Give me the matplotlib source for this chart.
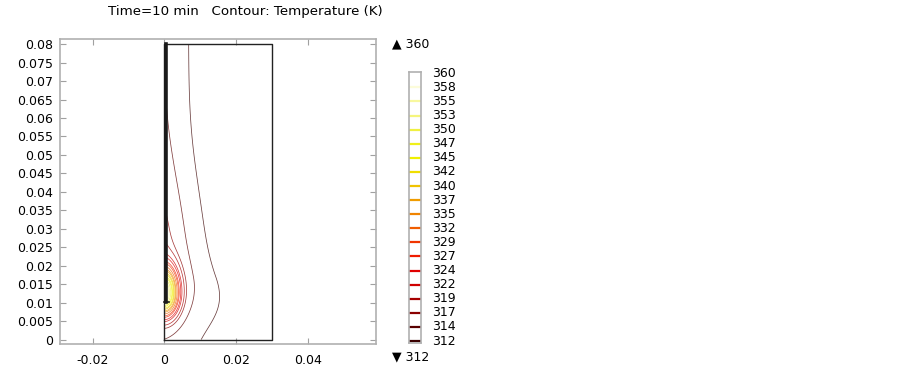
import numpy as np
import matplotlib
matplotlib.use("Agg")
import matplotlib.pyplot as plt
from matplotlib.colors import LinearSegmentedColormap

# contour levels / legend labels (K)
levels = [312, 314, 317, 319, 322, 324, 327, 329, 332, 335,
          337, 340, 342, 345, 347, 350, 353, 355, 358, 360]
t_min, t_max = 312, 360

x_ticks = [-0.02, 0, 0.02, 0.04]
y_ticks = [0, 0.005, 0.01, 0.015, 0.02, 0.025, 0.03, 0.035, 0.04,
           0.045, 0.05, 0.055, 0.06, 0.065, 0.07, 0.075, 0.08]

# geometry (m)
dom_w, dom_h = 0.03, 0.08
heater_bottom = 0.0102
heater_w = 0.0008

# temperature model parameters
T_inf = 311.0
y_hot = 0.0125     # hot spot at heater tip
y_wall = 0.017     # peak of the warm layer along the wall
core_amp, core_r = 41.5, 0.0036
stretch_below, stretch_above = 1.6, 1.9
profile_p = 1.2

cmap = LinearSegmentedColormap.from_list("thermal_light", [
    (0.00, "#3a0000"), (0.06, "#6a0000"), (0.11, "#900000"),
    (0.16, "#b00000"), (0.21, "#d00000"), (0.27, "#e80000"),
    (0.32, "#f02000"), (0.37, "#f04000"), (0.42, "#f06000"),
    (0.47, "#f08000"), (0.53, "#f0a000"), (0.58, "#f0c000"),
    (0.63, "#f0e000"), (0.69, "#f0f000"), (0.74, "#f0f020"),
    (0.79, "#f0f040"), (0.84, "#f4f470"), (0.90, "#f8f8a0"),
    (0.95, "#fbfbd0"), (1.00, "#ffffff")])

# field
xs = np.linspace(0, dom_w, 401)
ys = np.linspace(0, dom_h, 1001)
X, Y = np.meshgrid(xs, ys)

dy = Y - y_hot
s = np.where(dy > 0, stretch_above, stretch_below)
rho = np.sqrt(X**2 + (dy / s)**2)
core = core_amp * np.exp(-(rho / core_r)**2)

dw = Y - y_wall
P = np.where(dw > 0,
             2.95 + 5.13 * np.exp(-(dw / 0.026)**2),
             2.0 + 6.08 * np.exp(-(dw / 0.011)**2))
w = 0.0063 + 0.0045 * np.exp(-(Y / 0.016)**2)
T = T_inf + P * np.exp(-(X / w)**profile_p) + core

fig = plt.figure(figsize=(9.03, 3.66), dpi=100)
ax = fig.add_axes([60/903, 1-344/366, 316/903, 305/366])

norm = plt.Normalize(t_min, t_max)
ax.contour(X, Y, T, levels=levels, cmap=cmap, norm=norm, linewidths=0.55, alpha=0.75)

# domain outline and heater
ax.plot([0, dom_w, dom_w, 0, 0], [0, 0, dom_h, dom_h, 0], color="#222222", lw=1.0, zorder=3)
ax.plot([heater_w/2, heater_w/2], [heater_bottom, dom_h], color="#1a1a1a", lw=2.6, zorder=4)
ax.plot([0, heater_w*1.4], [heater_bottom, heater_bottom], color="#1a1a1a", lw=1.2, zorder=4)

ax.set_xlim(-0.0292, 0.0591)
ax.set_ylim(-0.0012, 0.0814)
ax.set_xticks(x_ticks)
ax.set_yticks(y_ticks)
ax.set_xticklabels(["%g" % v for v in x_ticks])
ax.set_yticklabels(["%g" % v for v in y_ticks])
ax.tick_params(direction="in", length=4, color="#a0a0a0", labelsize=9,
               top=True, right=True, pad=5)
ax.tick_params(axis="x", pad=7)
for sp in ax.spines.values():
    sp.set_color("#b0b0b0")
    sp.set_linewidth(1.2)

fig.text(108/903, 1-11/366, "Time=10 min   Contour: Temperature (K)",
         ha="left", va="center", fontsize=9.6)

# colour legend
cax = fig.add_axes([409/903, 1-343/366, 12/903, 271/366])
n = len(levels)
cax.set_xlim(0, 1)
cax.set_ylim(-0.14, n - 1 + 0.09)
for i, lv in enumerate(levels):
    cax.hlines(i, 0, 1, colors=[cmap(norm(lv))], lw=1.6)
    cax.text(1.9, i, str(lv), va="center", ha="left", fontsize=9)
cax.set_xticks([])
cax.set_yticks([])
for sp in cax.spines.values():
    sp.set_color("#b0b0b0")
    sp.set_linewidth(1.2)

fig.text(392/903, 1-44/366, "\u25b2 %d" % t_max, ha="left", va="center", fontsize=9)
fig.text(392/903, 1-357/366, "\u25bc %d" % t_min, ha="left", va="center", fontsize=9)

fig.savefig("out.png", dpi=100)
